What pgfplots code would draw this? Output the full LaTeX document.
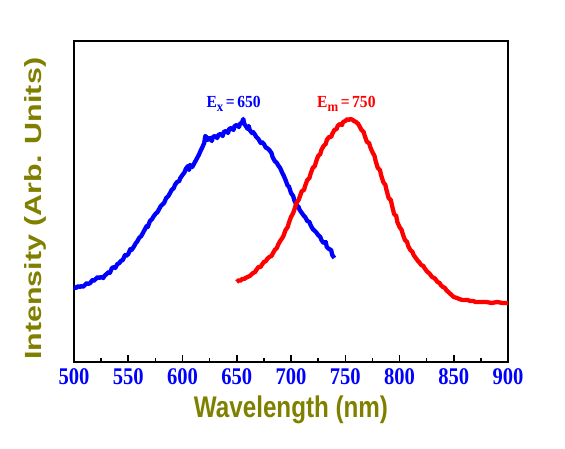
\documentclass[border=0pt]{standalone}
\usepackage{pgfplots}
\pgfplotsset{compat=1.18}
\usepackage{fontspec}
\setmainfont{Liberation Serif}
\newfontfamily\tickfont[FakeStretch=0.86]{Liberation Serif}
\newfontfamily\xlabfont[FakeStretch=0.81]{Liberation Sans}
\newfontfamily\ylabfont[FakeStretch=1.3]{Liberation Sans}
\newfontfamily\annfont[FakeStretch=0.92]{Liberation Serif}
\definecolor{olivelab}{RGB}{128,128,0}
\definecolor{pblue}{RGB}{0,0,255}
\definecolor{pred}{RGB}{255,0,0}
\begin{document}
\begin{tikzpicture}
\begin{axis}[
  scale only axis,
  width=434bp, height=321bp,
  xmin=500, xmax=900, ymin=0, ymax=321,
  xtick={500,550,...,900},
  minor x tick num=1,
  ytick=\empty,
  xtick pos=left,
  tick align=inside,
  major tick length=7bp,
  minor tick length=4bp,
  every tick/.style={black, line width=1.5bp},
  axis line style={line width=1.6bp},
  /pgf/number format/assume math mode=true,
  xticklabel style={font=\tickfont\bfseries\fontsize{24}{26}\selectfont, text=pblue, anchor=base, yshift=-22.5bp, inner sep=0pt},
  xlabel={Wavelength (nm)},
  xlabel style={font=\xlabfont\bfseries\fontsize{30}{32}\selectfont, text=olivelab, at={(axis description cs:0.5,-0.1736)}, anchor=base, inner sep=0pt},
  ylabel={Intensity (Arb. Units)},
  ylabel style={font=\ylabfont\bfseries\fontsize{23.5}{25}\selectfont, text=olivelab, at={(axis description cs:-0.0744,0.477)}, anchor=base, rotate=0, inner sep=0pt},
  clip=false,
]
\addplot[pblue, line width=4.3bp, line join=round] coordinates {
(500,75)(502,74)(504,76)(505,75)(507,76)(508,75)(510,77)(512,79)(513,78)(515,79)(517,82)(518,81)(520,83)(522,85)(523,84)
(525,85)(527,84)(528,86)(530,88)(532,90)(533,89)(535,94)(537,95)(538,94)(540,98)(542,99)(543,101)(545,102)(547,107)(548,106)
(550,108)(552,113)(553,112)(555,115)(557,119)(558,120)(560,124)(562,126)(563,128)(565,132)(567,136)(568,135)(570,141)(572,143)(573,145)
(575,148)(577,150)(578,152)(580,156)(582,158)(583,159)(585,164)(587,166)(588,168)(590,172)(592,174)(593,177)(595,180)(597,181)(598,184)
(600,187)(602,190)(603,193)(605,196)(606,192)(607,197)(609,195)(610,197)(612,201)(614,205)(615,207)(617,212)(618,214)(620,219)(621,226)(622,225)
(623,222)(625,224)(627,221)(628,225)(630,226)(632,224)(633,227)(635,228)(637,226)(638,230)(640,231)(642,229)(643,233)(645,234)(647,232)(648,236)
(650,237)(652,235)(653,238)(655,240)(656,243)(657,238)(659,235)(660,233)(661,236)(662,232)(664,229)(665,230)(667,227)(668,225)(670,223)(672,219)(673,220)
(675,218)(677,214)(678,214)(680,212)(682,209)(683,205)(685,201)(687,199)(688,197)(690,194)(692,189)(693,187)(695,182)(697,176)(698,176)
(700,169)(702,166)(703,162)(705,157)(707,155)(708,152)(710,149)(712,146)(713,145)(715,141)(717,140)(718,137)(720,133)(722,131)(723,130)
(725,127)(727,125)(728,122)(730,119)(732,120)(733,115)(735,113)(737,112)(738,107)(740,104)
};
\addplot[pred, line width=4.3bp, line join=round] coordinates {
(650,80)(652,82)(653,81)(655,83)(657,83)(658,84)(660,85)(662,86)(663,87)(665,89)(667,90)(668,92)(670,95)(672,95)(673,97)
(675,100)(677,101)(678,103)(680,105)(682,106)(683,108)(685,112)(687,114)(688,117)(690,121)(692,124)(693,126)(695,132)(697,135)(698,139)
(700,145)(702,149)(703,152)(705,159)(707,162)(708,165)(710,171)(712,172)(713,176)(715,182)(717,184)(718,188)(720,194)(722,196)(723,200)
(725,206)(727,208)(728,212)(730,216)(732,218)(733,222)(735,225)(737,225)(738,228)(740,232)(742,233)(743,236)(745,238)(747,237)(748,240)
(750,241)(752,243)(753,242)(755,243)(757,242)(758,241)(760,240)(762,238)(763,236)(765,232)(767,230)(768,226)(770,220)(772,219)(773,215)
(775,210)(777,206)(778,201)(780,194)(782,192)(783,187)(785,180)(787,177)(788,172)(790,164)(792,162)(793,157)(795,148)(797,146)(798,140)
(800,135)(802,132)(803,128)(805,122)(807,120)(808,116)(810,112)(812,110)(813,107)(815,104)(817,101)(818,100)(820,97)(822,96)(823,94)
(825,91)(827,89)(828,88)(830,85)(832,84)(833,83)(835,80)(837,79)(838,77)(840,75)(842,74)(843,72)(845,70)(847,68)(848,67)
(850,65)(853,64)(855,63)(858,62)(860,62)(863,62)(865,61)(868,61)(870,60)(875,60)(880,60)(885,59)
(890,60)(895,59)(900,59)
};
\node[anchor=base west, inner sep=0pt, text=pblue, font=\annfont\bfseries\fontsize{17}{19}\selectfont] at (axis cs:622,254) {E\raisebox{-0.22em}{\fontsize{14}{14}\selectfont x}\kern2.5bp=\kern2.5bp650};
\node[anchor=base west, inner sep=0pt, text=pred, font=\annfont\bfseries\fontsize{17}{19}\selectfont] at (axis cs:724,254) {E\raisebox{-0.22em}{\fontsize{14}{14}\selectfont m}\kern2.5bp=\kern2.5bp750};
\end{axis}
\pgfresetboundingbox
\useasboundingbox (-74bp,-87bp) rectangle (491bp,362bp);
\end{tikzpicture}
\end{document}
